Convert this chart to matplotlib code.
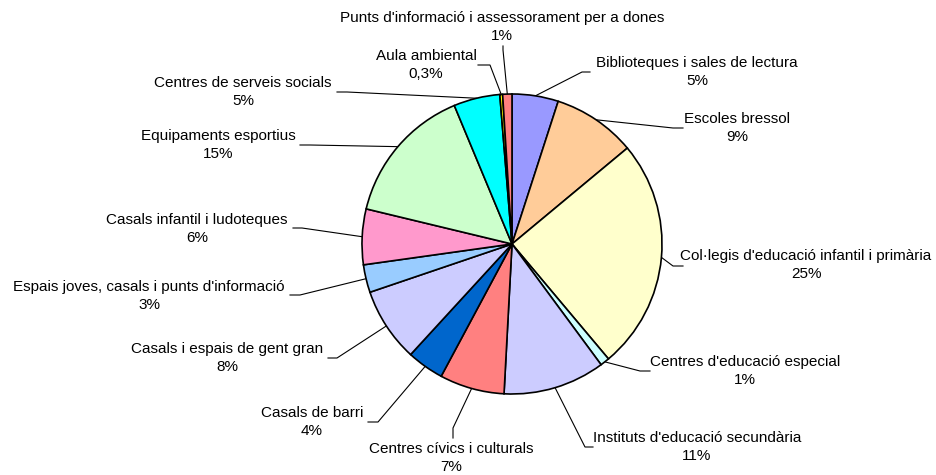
import numpy as np
import matplotlib
matplotlib.use('Agg')
import matplotlib.pyplot as plt

plt.rcParams['font.family'] = ['Liberation Sans', 'DejaVu Sans']

# data
categories = [
    "Biblioteques i sales de lectura",
    "Escoles bressol",
    "Col·legis d'educació infantil i primària",
    "Centres d'educació especial",
    "Instituts d'educació secundària",
    "Centres cívics i culturals",
    "Casals de barri",
    "Casals i espais de gent gran",
    "Espais joves, casals i punts d'informació",
    "Casals infantil i ludoteques",
    "Equipaments esportius",
    "Centres de serveis socials",
    "Aula ambiental",
    "Punts d'informació i assessorament per a dones",
]
values = [5, 9, 25, 1, 11, 7, 4, 8, 3, 6, 15, 5, 0.3, 1]
pct_labels = ['5%', '9%', '25%', '1%', '11%', '7%', '4%', '8%', '3%', '6%',
              '15%', '5%', '0,3%', '1%']

colors = ['#9999FF', '#FFCC99', '#FFFFCC', '#CCFFFF', '#CCCCFF', '#FF8080',
          '#0066CC', '#CCCCFF', '#99CCFF', '#FF99CC', '#CCFFCC', '#00FFFF',
          '#FFFF00', '#FF8080']

# layout (pixel positions, y measured from the top)
H = 475
label_pos = [(697, 72), (737, 128), (806, 265), (745, 371), (697, 447),
             (451, 458), (312, 422), (227, 358), (149, 296), (197, 229),
             (218, 145), (243, 92), (426, 65), (502, 27)]
leader_stub = [[(590, 72), (582, 72)], [(683, 128), (673, 128)],
               [(683, 266), (673, 266)], [(650, 371), (640, 371)],
               [(593, 447), (585, 447)], [(453, 438), (453, 428)],
               [(368, 422), (378, 422)], [(328, 358), (337, 358)],
               [(290, 295), (300, 295)], [(293, 228), (302, 228)],
               [(300, 145), (310, 145)], [(337, 92), (347, 92)],
               [(478, 65), (490, 65)], [(503, 46), (503, 50)]]

cx, cy, r = 512, H - 244, 150

fig = plt.figure(figsize=(9.36, 4.75), dpi=100)
ax = fig.add_axes([0, 0, 1, 1])

wedges, _ = ax.pie(values, colors=colors, startangle=90, counterclock=False,
                   center=(cx, cy), radius=r,
                   wedgeprops=dict(edgecolor='black', linewidth=1.2))

ax.set_xlim(0, 936)
ax.set_ylim(0, H)
ax.set_aspect('equal')
ax.axis('off')

for w, name, pct, (lx, ly), stub in zip(wedges, categories, pct_labels,
                                        label_pos, leader_stub):
    ax.text(lx, H - ly, name + '\n' + pct, ha='center', va='center',
            fontsize=11, linespacing=1.45)
    mid = np.deg2rad((w.theta1 + w.theta2) / 2)
    ex, ey = cx + r * np.cos(mid), cy + r * np.sin(mid)
    xs = [p[0] for p in stub] + [ex]
    ys = [H - p[1] for p in stub] + [ey]
    ax.plot(xs, ys, color='black', linewidth=0.8, zorder=0)

fig.savefig('out.png', dpi=100)
